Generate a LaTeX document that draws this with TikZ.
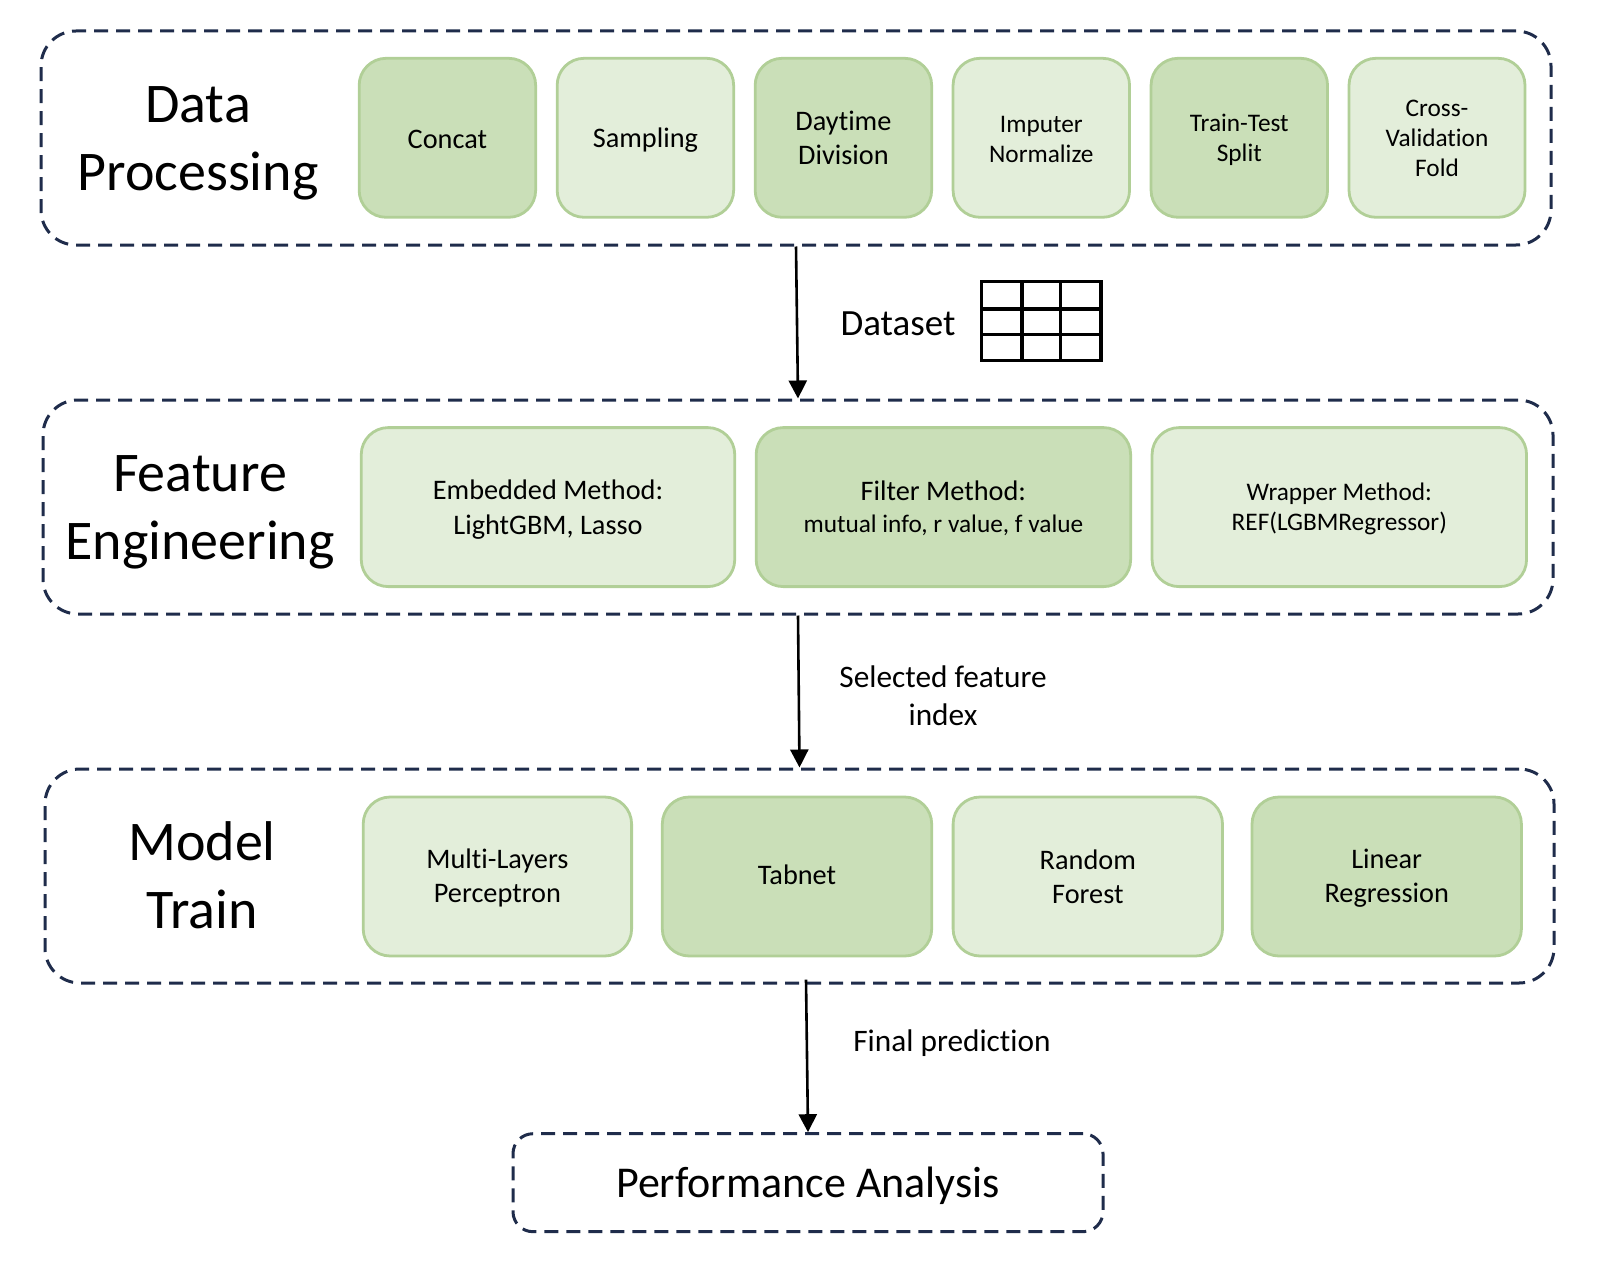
\documentclass[tikz,border=0pt]{standalone}
\usepackage{fontspec}
\setmainfont[Ligatures=NoCommon]{Carlito}
\usetikzlibrary{arrows.meta}
\definecolor{darkgreen}{HTML}{CADFB8}
\definecolor{lightgreen}{HTML}{E3EEDA}
\definecolor{edgegreen}{HTML}{B1CF97}
\definecolor{dashblue}{HTML}{1F2C4B}
\tikzset{
    groupbox/.style={draw=dashblue,line width=3pt,dash pattern=on 14pt off 8pt,rounded corners=35pt,inner sep=0pt},
    perfbox/.style={groupbox,rounded corners=20pt,minimum width=590pt,minimum height=98pt,text depth=0pt},
    darkbox/.style={draw=edgegreen,fill=darkgreen,line width=2.8pt,rounded corners=27pt,inner sep=0pt,align=center,minimum height=159pt},
    lightbox/.style={darkbox,fill=lightgreen},
    big/.style={font=\fontsize{28.3}{34}\selectfont},
    small/.style={font=\fontsize{25.3}{30}\selectfont},
    title/.style={align=center,font=\fontsize{56}{68}\selectfont},
    note/.style={align=center,font=\fontsize{31.3}{38}\selectfont},
    flow/.style={line width=2.6pt,-{Triangle[length=18pt,width=18pt]}}
}
\begin{document}
\begin{tikzpicture}[x=1pt,y=-1pt]
        \useasboundingbox (0,0) rectangle (1600,1268);
        \node[groupbox,minimum width=1510pt,minimum height=214pt] (dataproc) at (796,138){};
        \node[groupbox,minimum width=1510pt,minimum height=214pt] (feature) at (798,507){};
        \node[groupbox,minimum width=1509pt,minimum height=214pt] (model) at (799.5,876){};
        \node[perfbox,font=\fontsize{44}{52}\selectfont] (perf) at (808,1182.7){Performance Analysis};
        \node[title] (dataname) at (198,143){Data\\Processing};
        \node[title] (featurename) at (200,512){Feature\\Engineering};
        \node[title] (modelname) at (202,875){Model\\Train};
        \node[darkbox,big,minimum width=176.5pt,text height=21pt] (concat) at (447.4,137.8){Concat};
        \node[lightbox,big,minimum width=176.5pt,text depth=0pt] (sampling) at (645.4,137.8){Sampling};
        \node[darkbox,big,minimum width=176.5pt] (daytime) at (843.4,137.8){Daytime\\Division};
        \node[lightbox,small,minimum width=176.5pt,text height=50pt] (imputer) at (1041.3,137.8){Imputer\\Normalize};
        \node[darkbox,small,minimum width=176.5pt,text depth=0pt] (split) at (1239.3,137.8){Train-Test\\Split};
        \node[lightbox,small,minimum width=176pt,text height=78pt] (fold) at (1437,137.8){Cross-\\Validation\\Fold};
        \node[lightbox,big,minimum width=373.5pt,text depth=0pt] (embedded) at (548,507.1){Embedded Method:\\[1pt]LightGBM, Lasso};
        \node[darkbox,big,minimum width=374.5pt,text depth=0pt] (filter) at (943.4,507.1){Filter Method:\\[-2pt]{\fontsize{25.3}{30}\selectfont mutual info, r value, f value}};
        \node[lightbox,small,minimum width=374.5pt,text depth=0pt] (wrapper) at (1339.3,507.1){Wrapper Method:\\REF(LGBMRegressor)};
        \node[lightbox,big,minimum width=268.4pt,text depth=1pt] (mlp) at (497.4,876.5){Multi-Layers\\Perceptron};
        \node[darkbox,big,minimum width=269.4pt,text height=17pt] (tabnet) at (797,876.5){Tabnet};
        \node[lightbox,big,minimum width=269.4pt] (forest) at (1087.8,876.5){Random\\Forest};
        \node[darkbox,big,minimum width=269.4pt,text depth=2pt] (linear) at (1386.7,876.5){Linear\\Regression};
        \node[note,font=\fontsize{37}{44}\selectfont] (dataset) at (898,324){Dataset};
        \node[note] (selected) at (943,695.5){Selected feature\\index};
        \node[note] (final) at (952,1043){Final prediction};
        \coordinate (modelout) at (806,979.6);
        \draw[flow] (dataproc.south) -- (feature.north);
        \draw[flow] (feature.south) -- (model.north);
        \draw[flow] (modelout) -- (perf.north);
        \draw[line width=3.5pt] (981.5,281.5) rectangle (1101,360.5);
        \draw[line width=3.5pt] (981.5,309) -- (1101,309);
        \draw[line width=3.5pt] (981.5,334.5) -- (1101,334.5);
        \draw[line width=3.5pt] (1022,281.5) -- (1022,360.5);
        \draw[line width=3.5pt] (1060.5,281.5) -- (1060.5,360.5);
\end{tikzpicture}
\end{document}
